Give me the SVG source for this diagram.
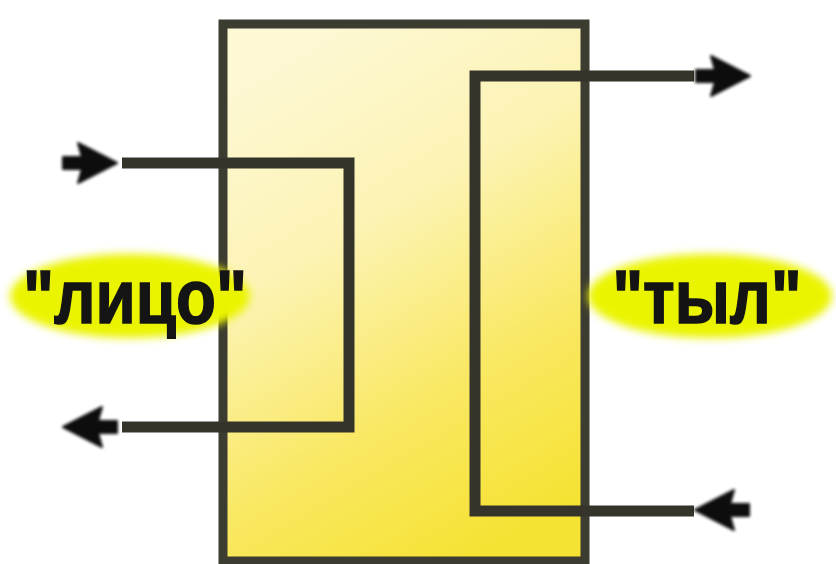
<svg xmlns="http://www.w3.org/2000/svg" width="836" height="564" viewBox="0 0 836 564">
  <style>
    .wire { fill: none; stroke: #35342a; stroke-width: 11; stroke-linejoin: miter; stroke-linecap: butt; }
    .lbl { font-family: "Liberation Sans", Arial, sans-serif; font-weight: bold; font-size: 76px; fill: #141414; stroke: #141414; stroke-width: 1.5; }
    .glow { fill: #ebf400; filter: url(#soft); }
  </style>
  <defs>
    <linearGradient id="boxfill" x1="0.3" y1="0" x2="0.7" y2="1">
      <stop offset="0" stop-color="#fdf8d4"/>
      <stop offset="0.35" stop-color="#fcf3b4"/>
      <stop offset="0.7" stop-color="#f9e862"/>
      <stop offset="1" stop-color="#f6e232"/>
    </linearGradient>
    <filter id="soft" x="-20%" y="-40%" width="140%" height="180%">
      <feGaussianBlur stdDeviation="4.5"/>
    </filter>
    <filter id="blurA" x="-20%" y="-40%" width="140%" height="180%">
      <feGaussianBlur stdDeviation="1.5"/>
    </filter>
    <path id="arrow" d="M0,0 L-39,-20 L-35,-6 L-54,-6 L-54,6 L-35,6 L-39,20 Z" fill="#111" stroke="#111" stroke-width="2" stroke-linejoin="round" filter="url(#blurA)"/>
  </defs>

  <rect width="836" height="564" fill="#ffffff"/>

  <g id="box">
    <rect x="223" y="24" width="362" height="537" fill="url(#boxfill)" stroke="#3d3c30" stroke-width="9"/>
  </g>

  <g id="connectors">
    <path class="wire" d="M122,163 H349 V427 H122"/>
    <path class="wire" d="M694,76 H475 V511 H694"/>
    <use href="#arrow" transform="translate(117,163)"/>
    <use href="#arrow" transform="translate(63,427) rotate(180)"/>
    <use href="#arrow" transform="translate(750,76)"/>
    <use href="#arrow" transform="translate(695,510) rotate(180)"/>
  </g>

  <g id="label-face">
    <ellipse class="glow" cx="130" cy="296" rx="120" ry="42"/>
    <text class="lbl" x="135" y="323" text-anchor="middle" textLength="224" lengthAdjust="spacingAndGlyphs">"лицо"</text>
  </g>

  <g id="label-back">
    <ellipse class="glow" cx="710" cy="296" rx="122" ry="42"/>
    <text class="lbl" x="707" y="323" text-anchor="middle" textLength="189" lengthAdjust="spacingAndGlyphs">"тыл"</text>
  </g>
</svg>
